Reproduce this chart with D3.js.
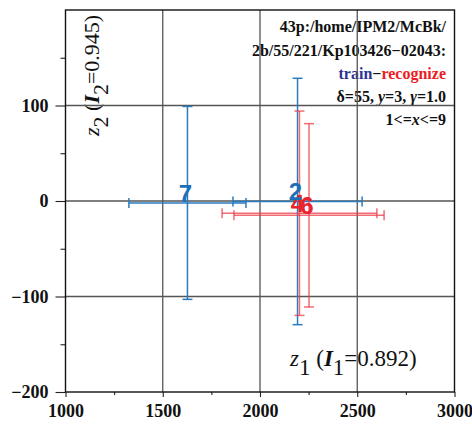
<!DOCTYPE html>
<html>
<head>
<meta charset="utf-8">
<script src="https://cdn.jsdelivr.net/npm/d3@7"></script>
<style>
  body { margin: 0; background: #fff; }
  svg { display: block; }
</style>
</head>
<body>
<script>
// Data
const labels = ["7", "2", "4", "6"];
const groups = ["train", "train", "recognize", "recognize"];
const z1 = [1627, 2193, 2203, 2252];
const z1Err = [301, 332, 398, 386];
const z2 = [-2, -0.5, -12.8, -15];
const z2Err = [101, 129, 107, 96];

const xTicks = [1000, 1500, 2000, 2500, 3000];
const xMinor = [1250, 1750, 2250, 2750];
const yTicks = [-200, -100, 0, 100];
const yMinor = [-150, -50, 50, 150];
const xGrid = [1500, 2000, 2500];
const yGrid = [-100, 0, 100];

const infoLines = ["43p:/home/IPM2/McBk/", "2b/55/221/Kp103426\u221202043:"];

const width = 472, height = 424;
const margin = {top: 10, right: 17.5, bottom: 32, left: 65.5};

const colors = {train: "#2a7bbf", recognize: "#ec3b47"};
const labelColors = {train: "#1f6fb8", recognize: "#e8232d"};

const svg = d3.select("body").append("svg")
    .attr("width", width)
    .attr("height", height);

const x = d3.scaleLinear().domain([1000, 3000]).range([margin.left, width - margin.right]);
const y = d3.scaleLinear().domain([-200, 200]).range([height - margin.bottom, margin.top]);

const serif = "'Liberation Serif', 'Times New Roman', serif";
const fmt = d3.format("d");

// Axes
const xAxis = svg.append("g")
    .attr("transform", `translate(0,${y(-200)})`)
    .call(d3.axisBottom(x).tickValues(xTicks).tickFormat(fmt).tickSize(5).tickSizeOuter(0).tickPadding(7));
const xAxisMinor = svg.append("g")
    .attr("transform", `translate(0,${y(-200)})`)
    .call(d3.axisBottom(x).tickValues(xMinor).tickSize(3).tickSizeOuter(0).tickFormat(""));
const yAxis = svg.append("g")
    .attr("transform", `translate(${x(1000)},0)`)
    .call(d3.axisLeft(y).tickValues(yTicks).tickFormat(fmt).tickSize(10).tickSizeOuter(0).tickPadding(7));
const yAxisMinor = svg.append("g")
    .attr("transform", `translate(${x(1000)},0)`)
    .call(d3.axisLeft(y).tickValues(yMinor).tickSize(5).tickSizeOuter(0).tickFormat(""));

[xAxis, xAxisMinor, yAxis, yAxisMinor].forEach(g => {
    g.select(".domain").remove();
    g.selectAll("line").attr("stroke", "#222").attr("stroke-width", 1.1);
    g.selectAll("text")
        .attr("font-family", serif)
        .attr("font-weight", "bold")
        .attr("font-size", 18)
        .attr("fill", "#111");
});

// Info text (top right)
const info = svg.append("g")
    .attr("font-family", serif)
    .attr("font-weight", "bold")
    .attr("font-size", 16)
    .attr("text-anchor", "end");

const infoX = 446;
infoLines.forEach((t, i) => {
    info.append("text").attr("x", infoX).attr("y", 32 + i * 23.5).attr("fill", "#111").text(t);
});
const l3 = info.append("text").attr("x", infoX).attr("y", 79);
l3.append("tspan").attr("fill", "#2e3192").text("train");
l3.append("tspan").attr("fill", "#111").text("\u2212");
l3.append("tspan").attr("fill", "#ed1c24").text("recognize");
const l4 = info.append("text").attr("x", infoX).attr("y", 102).attr("fill", "#111");
l4.append("tspan").text("\u03b4=55, ");
l4.append("tspan").attr("font-style", "italic").text("y");
l4.append("tspan").text("=3, ");
l4.append("tspan").attr("font-style", "italic").text("\u03b3");
l4.append("tspan").text("=1.0");
const l5 = info.append("text").attr("x", infoX).attr("y", 125).attr("fill", "#111");
l5.append("tspan").text("1<=");
l5.append("tspan").attr("font-style", "italic").text("x");
l5.append("tspan").text("<=9");

// Axis titles
function axisTitle(sel, idx, val) {
    sel.append("tspan").attr("font-style", "italic").text("z");
    sel.append("tspan").attr("dy", 9).text(idx);
    sel.append("tspan").attr("dy", -9).text(" (");
    sel.append("tspan").attr("font-style", "italic").attr("font-weight", "bold").text("I");
    sel.append("tspan").attr("dy", 9).text(idx);
    sel.append("tspan").attr("dy", -9).text("=" + val + ")");
}
const xTitle = svg.append("text")
    .attr("x", 290).attr("y", 366)
    .attr("font-family", serif).attr("font-size", 23).attr("fill", "#111");
axisTitle(xTitle, "1", "0.892");

const yTitle = svg.append("text")
    .attr("transform", "translate(99,136) rotate(-90)")
    .attr("font-family", serif).attr("font-size", 22).attr("fill", "#111");
axisTitle(yTitle, "2", "0.945");

// Grid lines
const grid = svg.append("g").attr("stroke", "#555").attr("stroke-width", 1.3);
grid.selectAll(".gx").data(xGrid).join("line")
    .attr("x1", d => x(d)).attr("x2", d => x(d))
    .attr("y1", y(200)).attr("y2", y(-200));
grid.selectAll(".gy").data(yGrid).join("line")
    .attr("y1", d => y(d)).attr("y2", d => y(d))
    .attr("x1", x(1000)).attr("x2", x(3000));

// Frame
svg.append("rect")
    .attr("x", x(1000)).attr("y", y(200))
    .attr("width", x(3000) - x(1000)).attr("height", y(-200) - y(200))
    .attr("fill", "none").attr("stroke", "#111").attr("stroke-width", 1.4);

// Error bars
const pts = labels.map((l, i) => ({
    label: l, group: groups[i], x: z1[i], xe: z1Err[i], y: z2[i], ye: z2Err[i]
}));
const cap = 5;
const bars = svg.append("g").selectAll("g").data(pts).join("g")
    .attr("stroke", d => colors[d.group])
    .attr("stroke-width", 1.5)
    .attr("stroke-opacity", d => d.group === "train" ? 1 : 0.75);
bars.append("line")
    .attr("x1", d => x(d.x - d.xe)).attr("x2", d => x(d.x + d.xe))
    .attr("y1", d => y(d.y)).attr("y2", d => y(d.y));
bars.append("line")
    .attr("x1", d => x(d.x)).attr("x2", d => x(d.x))
    .attr("y1", d => y(d.y - d.ye)).attr("y2", d => y(d.y + d.ye));
[-1, 1].forEach(s => {
    bars.append("line")
        .attr("x1", d => x(d.x + s * d.xe)).attr("x2", d => x(d.x + s * d.xe))
        .attr("y1", d => y(d.y) - cap).attr("y2", d => y(d.y) + cap);
    bars.append("line")
        .attr("x1", d => x(d.x) - cap).attr("x2", d => x(d.x) + cap)
        .attr("y1", d => y(d.y + s * d.ye)).attr("y2", d => y(d.y + s * d.ye));
});

// Point labels (red first so blue sits on top)
const order = pts.slice().sort((a, b) => (a.group === "train") - (b.group === "train"));
svg.append("g").selectAll("text").data(order).join("text")
    .attr("x", d => x(d.x) - 2)
    .attr("y", d => y(d.y) - 1)
    .attr("text-anchor", "middle")
    .attr("font-family", "'Liberation Sans', Arial, sans-serif")
    .attr("font-weight", "bold")
    .attr("font-size", 24)
    .attr("fill", d => labelColors[d.group])
    .text(d => d.label);
</script>
</body>
</html>
